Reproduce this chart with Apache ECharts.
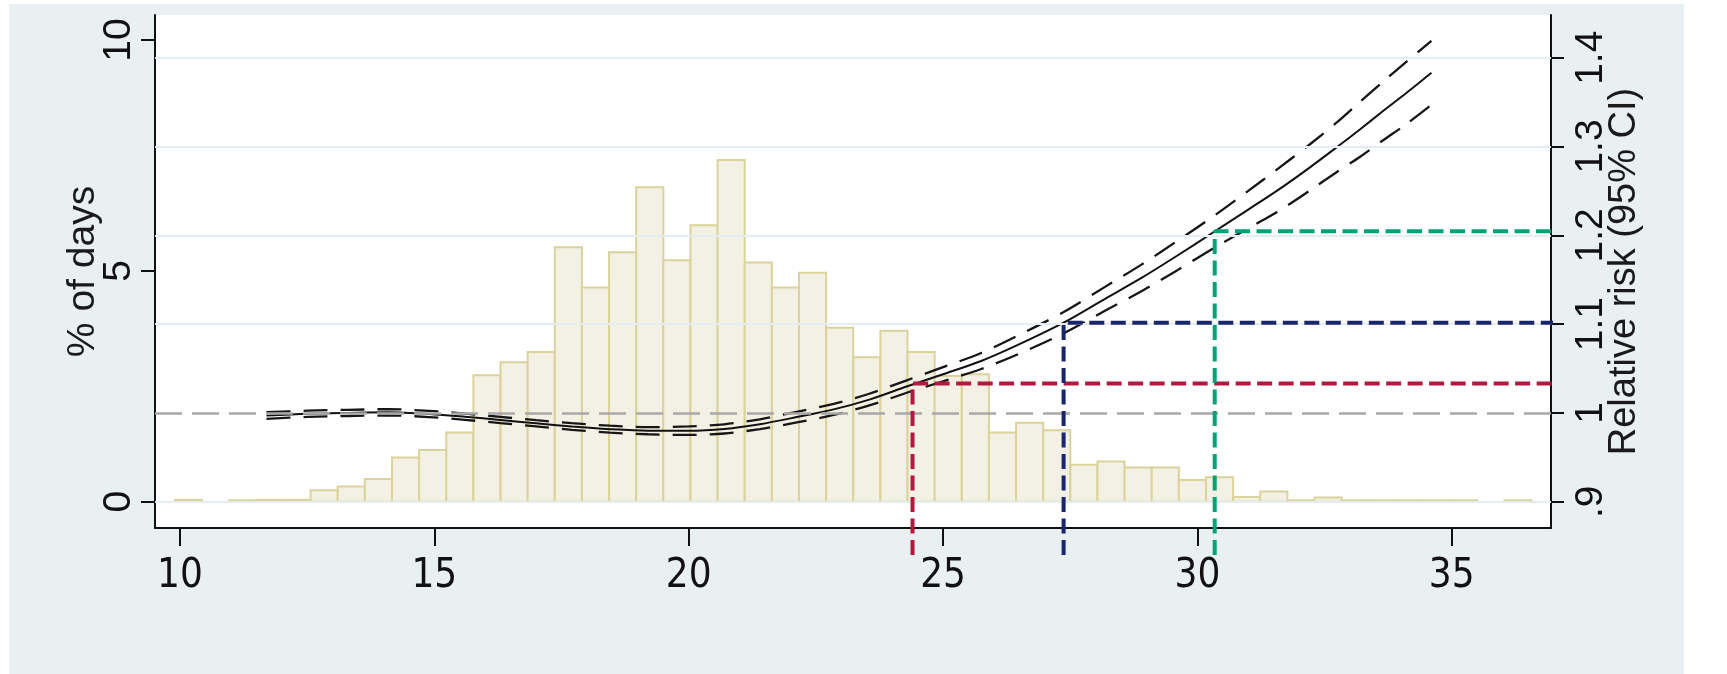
<!DOCTYPE html>
<html>
<head>
<meta charset="utf-8">
<script src="https://cdn.jsdelivr.net/npm/echarts@6/dist/echarts.min.js"></script>
<style>
html,body{margin:0;padding:0;background:#ffffff;}
#chart{width:1727px;height:674px;}
</style>
</head>
<body>
<div id="chart"></div>
<script>
// ---------- data ----------
const binStart = 9.9;
const binWidth = 0.5334;
const pctDays = [
  0.04, 0, 0.03, 0.04, 0.04, 0.25, 0.33, 0.49, 0.96, 1.12,
  1.50, 2.74, 3.02, 3.24, 5.51, 4.64, 5.40, 6.81, 5.23, 5.99,
  7.40, 5.18, 4.64, 4.96, 3.77, 3.13, 3.70, 3.24, 2.72, 2.76,
  1.50, 1.71, 1.55, 0.80, 0.87, 0.74, 0.74, 0.47, 0.53, 0.10,
  0.22, 0.03, 0.09, 0.03, 0.03, 0.03, 0.03, 0.03, 0, 0.03
];
const curveX = [11.7, 12.5, 13.3, 14.1, 14.9, 15.6, 16.3, 17.0, 17.7, 18.45,
  19.2, 20.0, 20.7, 21.4, 22.1, 22.85, 23.55, 24.3, 25.0, 25.75,
  26.45, 27.37, 28.2, 28.9, 29.6, 30.33, 31.0, 31.56, 32.2, 32.77,
  33.2, 33.65, 34.1, 34.6];
const rrFit = [0.997, 0.999, 1.000, 1.0007, 0.9988, 0.9957, 0.992, 0.9883, 0.9847, 0.9817,
  0.980, 0.980, 0.982, 0.9873, 0.995, 1.004, 1.015, 1.030, 1.0435, 1.0585,
  1.076, 1.1016, 1.129, 1.152, 1.177, 1.204, 1.229, 1.250, 1.276, 1.3005,
  1.3195, 1.340, 1.360, 1.383];
const rrUpper = [1.0008, 1.0025, 1.0035, 1.0042, 1.0023, 0.9992, 0.9955, 0.9918, 0.9884, 0.9856,
  0.9840, 0.9848, 0.9872, 0.9928, 1.0010, 1.0103, 1.0216, 1.037, 1.0515, 1.0675,
  1.0865, 1.1136, 1.1425, 1.167, 1.1935, 1.222, 1.250, 1.274, 1.302, 1.3285,
  1.3505, 1.373, 1.395, 1.419];
const rrLower = [0.9932, 0.9955, 0.9965, 0.9972, 0.9953, 0.9922, 0.9885, 0.9848, 0.9810, 0.9778,
  0.9760, 0.9752, 0.9768, 0.9818, 0.9890, 0.9977, 1.0084, 1.023, 1.0355, 1.0495,
  1.0655, 1.0896, 1.1155, 1.137, 1.1605, 1.186, 1.208, 1.226, 1.250, 1.2725,
  1.2885, 1.307, 1.325, 1.347];
const thresholdX = [24.4, 27.37, 30.34];
const thresholdRR = [1.033, 1.1016, 1.2045];
const xTicks = [10, 15, 20, 25, 30, 35];
const pctTicks = [0, 5, 10];
const rrTicks = [0.9, 1, 1.1, 1.2, 1.3, 1.4];
const rrReference = 1;
const leftTitle = '% of days';
const rightTitle = 'Relative risk (95% CI)';

// ---------- chart ----------
const chart = echarts.init(document.getElementById('chart'), null, {renderer: 'canvas'});
const thresholdColors = ['#b3183e', '#18266c', '#00a378'];
const lineBottom = 0.84;   // vertical guides run a little below the x axis
const lineRight = 41;      // horizontal guides run to the page edge

const rotFont = 'Liberation Sans, Arial, sans-serif';
const xFont = '"Liberation Sans Narrow", "Arial Narrow", "DejaVu Sans Condensed", sans-serif';

const histData = pctDays.map((v, i) => [binStart + i * binWidth, v, binStart + (i + 1) * binWidth]);

const series = [
  {
    name: 'grid', type: 'line', xAxisIndex: 0, yAxisIndex: 1, data: [], z: 1,
    markLine: {
      silent: true, symbol: ['none', 'none'], label: {show: false}, animation: false,
      lineStyle: {color: '#e4edf1', width: 2, type: 'solid'},
      data: rrTicks.filter(v => v !== rrReference).map(v => ({yAxis: v}))
    }
  },
  {
    name: 'ref', type: 'line', xAxisIndex: 0, yAxisIndex: 1, data: [], z: 2,
    markLine: {
      silent: true, symbol: ['none', 'none'], label: {show: false}, animation: false,
      lineStyle: {color: '#a8a8a8', width: 2.5, type: [27, 10]},
      data: [{yAxis: rrReference}]
    }
  },
  {
    name: 'hist', type: 'custom', xAxisIndex: 0, yAxisIndex: 0, z: 3,
    data: histData,
    encode: {x: [0, 2], y: 1},
    renderItem: function (params, api) {
      const v = api.value(1);
      if (!(v > 0)) return null;
      const p0 = api.coord([api.value(0), v]);
      const p1 = api.coord([api.value(2), 0]);
      return {
        type: 'rect',
        shape: {x: p0[0], y: p0[1], width: p1[0] - p0[0], height: p1[1] - p0[1]},
        style: {fill: '#f3f1e3', stroke: '#dbd29c', lineWidth: 2}
      };
    }
  },
  {
    name: 'upper', type: 'line', xAxisIndex: 0, yAxisIndex: 1, z: 4, symbol: 'none', smooth: 0.3,
    data: curveX.map((x, i) => [x, rrUpper[i]]),
    lineStyle: {color: '#161616', width: 2.3, type: [24, 13]}
  },
  {
    name: 'lower', type: 'line', xAxisIndex: 0, yAxisIndex: 1, z: 4, symbol: 'none', smooth: 0.3,
    data: curveX.map((x, i) => [x, rrLower[i]]),
    lineStyle: {color: '#161616', width: 2.3, type: [24, 13]}
  },
  {
    name: 'fit', type: 'line', xAxisIndex: 0, yAxisIndex: 1, z: 4, symbol: 'none', smooth: 0.3,
    data: curveX.map((x, i) => [x, rrFit[i]]),
    lineStyle: {color: '#111111', width: 2}
  }
];
thresholdX.forEach((x, i) => {
  series.push({
    name: 'thr' + i, type: 'line', xAxisIndex: 0, yAxisIndex: 1, z: 6, symbol: 'none',
    clip: false,
    data: [[x, lineBottom], [x, thresholdRR[i]], [lineRight, thresholdRR[i]]],
    lineStyle: {color: thresholdColors[i], width: 4, type: [15, 6.5]}
  });
});

const option = {
  animation: false,
  backgroundColor: '#ffffff',
  graphic: [{
    type: 'rect', z: -10, silent: true,
    shape: {x: 9, y: 4, width: 1675, height: 670},
    style: {fill: '#e9f0f2'}
  }],
  grid: {
    left: 155, right: 176, top: 15, bottom: 146,
    show: true, backgroundColor: '#ffffff', borderWidth: 0
  },
  xAxis: {
    type: 'value', min: 9.5086, max: 36.951, position: 'bottom',
    axisLine: {show: true, onZero: false, lineStyle: {color: '#111', width: 2}},
    axisTick: {show: true, customValues: xTicks, length: 18, lineStyle: {color: '#111', width: 2}},
    axisLabel: {customValues: xTicks, margin: 29, fontSize: 40, fontFamily: xFont, color: '#111'},
    splitLine: {show: false}
  },
  yAxis: [
    {
      type: 'value', min: -0.5696, max: 10.541, position: 'left',
      name: leftTitle, nameLocation: 'middle', nameRotate: 90, nameGap: 52, nameMoveOverlap: false,
      nameTextStyle: {fontSize: 39, fontFamily: rotFont, color: '#1a1a1a'},
      axisLine: {show: true, onZero: false, lineStyle: {color: '#111', width: 2}},
      axisTick: {show: true, customValues: pctTicks, length: 14, lineStyle: {color: '#111', width: 2}},
      axisLabel: {customValues: pctTicks, rotate: 90, margin: 16, fontSize: 39, fontFamily: rotFont, color: '#111'},
      splitLine: {show: false}
    },
    {
      type: 'value', min: 0.8704, max: 1.4481, position: 'right',
      name: rightTitle, nameLocation: 'middle', nameRotate: 90, nameGap: 55, nameMoveOverlap: false,
      nameTextStyle: {fontSize: 38, fontFamily: rotFont, color: '#1a1a1a'},
      axisLine: {show: true, onZero: false, lineStyle: {color: '#111', width: 2}},
      axisTick: {show: true, customValues: rrTicks, length: 13, lineStyle: {color: '#111', width: 2}},
      axisLabel: {
        customValues: rrTicks, rotate: 90, margin: 21, fontSize: 39, fontFamily: rotFont, color: '#111',
        formatter: function (v) {
          const s = String(Math.round(v * 10) / 10);
          return s.replace(/^0\./, '.');
        }
      },
      splitLine: {show: false}
    }
  ],
  series: series
};
chart.setOption(option);
</script>
</body>
</html>
